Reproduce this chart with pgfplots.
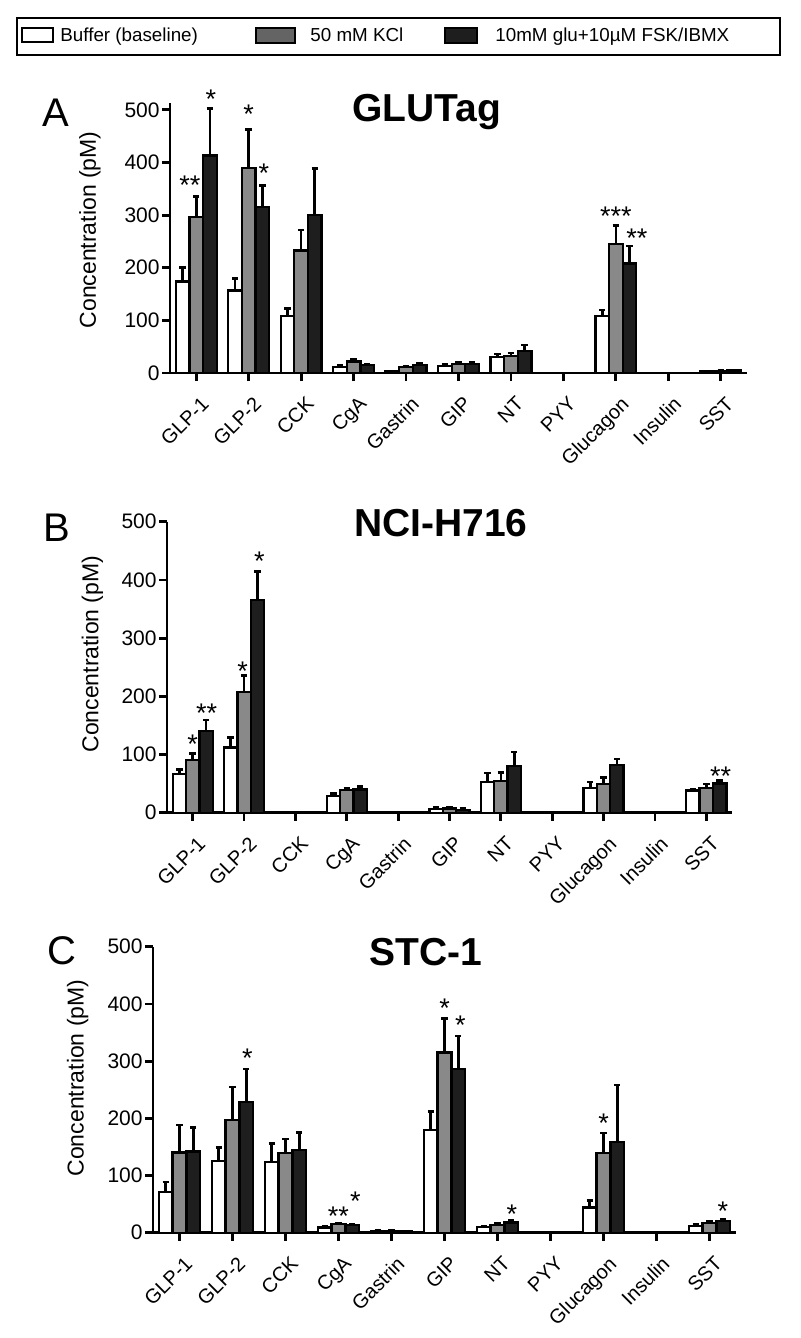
\documentclass[border=0pt]{standalone}
\usepackage{fontspec}
\setmainfont{Liberation Sans}
\usepackage{pgfplots}
\usepackage{pgfplotstable}
\pgfplotsset{compat=1.18}

\definecolor{bargray}{RGB}{137,137,137}
\definecolor{barblack}{RGB}{30,30,30}
\definecolor{leggray}{RGB}{100,100,100}

% columns: category index, buffer (w) + upper error, KCl (g) + error, glu/FSK/IBMX (b) + error
\pgfplotstableread{
x  w   we  g   ge  b   be
0  174 27  296 39  413 90
1  157 23  389 74  315 41
2  108 14  233 39  300 89
3  12  2   22  4   15  2
4  3   1   11  2   15  3
5  13  4   17  3   17  3
6  30  6   32  6   42  11
8  108 12  245 35  208 33
10 3   1   4   1   5   1
}\dataA

\pgfplotstableread{
x  w   we  g   ge  b   be
0  66  8   90  12  141 18
1  112 17  208 28  365 49
3  29  4   39  3   40  5
4  1   0.5 1   0.5 1   0.5
5  6   4   7   2   5   3
6  53  15  55  14  80  24
8  42  11  49  11  82  10
10 38  2   43  6   50  5
}\dataB

\pgfplotstableread{
x  w   we  g   ge  b   be
0  71  18  140 48  142 42
1  125 24  197 58  228 58
2  124 32  139 25  145 30
3  9   2   15  2   13  2
4  3   1   3   1   2   1
5  179 33  315 59  286 58
6  10  2   13  3   18  3
8  44  12  139 35  159 99
10 12  3   17  3   21  2
}\dataC

\newcommand{\starfont}{\fontsize{13.5}{14}\selectfont}
\newcommand{\sig}[3]{\node[font=\starfont, anchor=base, inner sep=0pt, yshift=-7.8pt] at (axis cs:#1,#2) {#3};}

\pgfplotsset{
  panel/.style={
    scale only axis,
    xmin=-0.5, xmax=10.5, ymin=0,
    enlargelimits=false,
    clip=false,
    axis x line*=bottom, axis y line*=left,
    axis line style={line width=1.4pt, black},
    tick align=outside, major tick length=4pt,
    every tick/.style={line width=1.4pt, black},
    xtick={0,...,10},
    xticklabels={GLP-1,GLP-2,CCK,CgA,Gastrin,GIP,NT,PYY,Glucagon,Insulin,SST},
    ytick={0,100,...,500},
    /pgf/number format/assume math mode=true,
    yticklabel style={font=\fontsize{10.5}{12}\selectfont, inner sep=1pt},
    xticklabel style={font=\fontsize{10}{12}\selectfont, inner sep=0pt, xshift=2pt, yshift=-7pt, rotate=45, anchor=north east},
    ylabel={Concentration (pM)},
    ylabel style={font=\fontsize{11.5}{13}\selectfont, rotate=0, anchor=center},
    ybar, bar width=0.26,
    anchor=south west,
  },
  errstyle/.style={error bars/.cd, y dir=plus, y explicit,
    error bar style={line width=1.3pt, black},
    error mark options={rotate=90, line width=1.3pt, black, mark size=1.6pt}},
  wbar/.style={draw=black, fill=white, line width=1.15pt, bar shift=-0.26, errstyle},
  gbar/.style={draw=black, fill=bargray, line width=1.15pt, bar shift=0, errstyle},
  bbar/.style={draw=black, fill=barblack, line width=1.15pt, bar shift=0.26, errstyle},
}

\begin{document}
\begin{tikzpicture}
\path[use as bounding box] (0,0) rectangle (400pt,-669pt);

% legend
\draw[line width=1pt] (8.5pt,-9pt) rectangle (390pt,-27.5pt);
\draw[line width=0.9pt, fill=white] (11pt,-14pt) rectangle (26.5pt,-21pt);
\draw[line width=0.9pt, fill=leggray] (128pt,-14pt) rectangle (147.5pt,-21.5pt);
\draw[line width=0.9pt, fill=barblack] (222.5pt,-14pt) rectangle (238.5pt,-21.5pt);
\begin{scope}[every node/.style={anchor=base west, inner sep=0pt, font=\fontsize{9.4}{11}\selectfont}]
\node at (30pt,-21pt) {Buffer (baseline)};
\node at (155pt,-21pt) {50 mM KCl};
\node at (247.5pt,-21pt) {10mM glu+10µM FSK/IBMX};
\end{scope}

% panel A
\begin{axis}[panel, at={(85pt,-186.5pt)}, width=288.5pt, height=135pt, ymax=513,
  ylabel style={at={(rel axis cs:-0.1387,0.53)}}]
\addplot[wbar] table[x=x, y=w, y error=we] {\dataA};
\addplot[gbar] table[x=x, y=g, y error=ge] {\dataA};
\addplot[bbar] table[x=x, y=b, y error=be] {\dataA};
\sig{-0.12}{368}{**}
\sig{0.28}{532}{*}
\sig{1.0}{503}{*}
\sig{1.29}{391}{*}
\sig{8.0}{309}{***}
\sig{8.4}{269}{**}
\end{axis}

% panel B
\begin{axis}[panel, at={(83.5pt,-406.35pt)}, width=282.5pt, height=145.5pt, ymax=500,
  ylabel style={at={(rel axis cs:-0.132,0.545)}}]
\addplot[wbar] table[x=x, y=w, y error=we] {\dataB};
\addplot[gbar] table[x=x, y=g, y error=ge] {\dataB};
\addplot[bbar] table[x=x, y=b, y error=be] {\dataB};
\sig{0}{128}{*}
\sig{0.27}{182}{**}
\sig{0.97}{254}{*}
\sig{1.30}{443}{*}
\sig{10.28}{73}{**}
\end{axis}

% panel C
\begin{axis}[panel, at={(76.5pt,-616.35pt)}, width=291.5pt, height=143pt, ymax=500,
  ylabel style={at={(rel axis cs:-0.129,0.541)}}]
\addplot[wbar] table[x=x, y=w, y error=we] {\dataC};
\addplot[gbar] table[x=x, y=g, y error=ge] {\dataC};
\addplot[bbar] table[x=x, y=b, y error=be] {\dataC};
\sig{1.28}{316}{*}
\sig{3.0}{40}{**}
\sig{3.32}{66}{*}
\sig{5.0}{404}{*}
\sig{5.3}{373}{*}
\sig{6.27}{43}{*}
\sig{8.0}{203}{*}
\sig{10.25}{48}{*}
\end{axis}

% titles and panel letters
\begin{scope}[every node/.style={anchor=base, inner sep=0pt}]
\node[font=\fontsize{19.5}{22}\selectfont\bfseries] at (213.25pt,-61pt) {GLUTag};
\node[font=\fontsize{19.5}{22}\selectfont\bfseries] at (220.5pt,-268.35pt) {NCI-H716};
\node[font=\fontsize{19.5}{22}\selectfont\bfseries] at (213pt,-482.5pt) {STC-1};
\node[font=\fontsize{20}{22}\selectfont] at (28pt,-63.35pt) {A};
\node[font=\fontsize{20}{22}\selectfont] at (28.5pt,-270.85pt) {B};
\node[font=\fontsize{20}{22}\selectfont] at (31pt,-482pt) {C};
\end{scope}
\end{tikzpicture}
\end{document}
